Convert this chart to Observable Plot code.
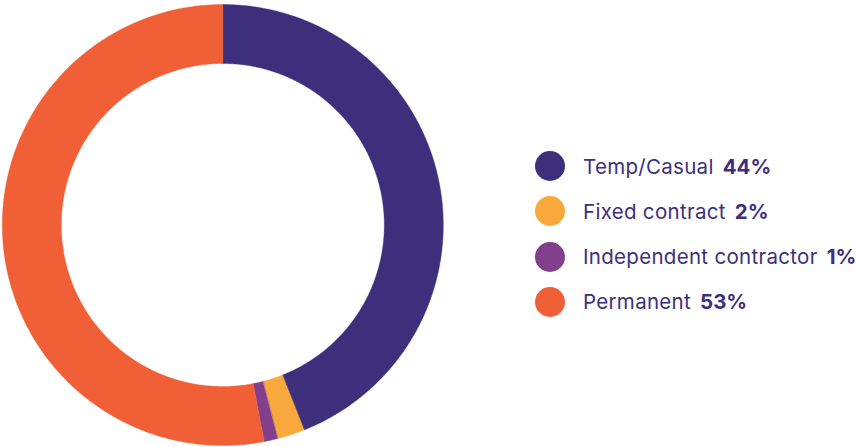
<!DOCTYPE html>
<html>
<head>
<meta charset="utf-8">
<script src="https://cdn.jsdelivr.net/npm/d3@7"></script>
<script src="https://cdn.jsdelivr.net/npm/@observablehq/plot@0.6"></script>
<style>
  html, body { margin: 0; padding: 0; background: #fff; }
  #wrap { position: relative; width: 857px; height: 447px; }
  #legend { position: absolute; left: 535px; top: 151px; font-family: Inter, "Noto Sans", sans-serif; color: #3d2f7c; }
  .item { display: flex; align-items: center; height: 30px; margin-bottom: 15.3px; font-size: 20.5px; letter-spacing: 0.3px; white-space: nowrap; }
  .sw { width: 30px; height: 30px; border-radius: 50%; margin-right: 18px; flex: none; }
  .val { font-weight: 700; margin-left: 9px; letter-spacing: 0; }
</style>
</head>
<body>
<div id="wrap"></div>
<script>
const categories = ["Temp/Casual", "Fixed contract", "Independent contractor", "Permanent"];
const values = [44, 2, 1, 53];
const valueLabels = ["44%", "2%", "1%", "53%"];
const colors = ["#3d2f7c", "#f9a93b", "#813f8c", "#f15f37"];

const innerRatio = 161.5 / 220.5;
const pie = d3.pie().sort(null).value(d => d.value)(categories.map((c, i) => ({name: c, value: values[i]})));
const pts = [];
for (const s of pie) {
  const n = Math.max(4, Math.ceil((s.endAngle - s.startAngle) / 0.01));
  for (let k = 0; k <= n; k++) {
    const a = s.startAngle + (s.endAngle - s.startAngle) * k / n;
    pts.push({name: s.data.name, x: Math.sin(a), y: Math.cos(a)});
  }
  for (let k = n; k >= 0; k--) {
    const a = s.startAngle + (s.endAngle - s.startAngle) * k / n;
    pts.push({name: s.data.name, x: innerRatio * Math.sin(a), y: innerRatio * Math.cos(a)});
  }
}

const chart = Plot.plot({
  width: 857,
  height: 447,
  marginLeft: 1.8,
  marginRight: 414.2,
  marginTop: 4,
  marginBottom: 2,
  x: {domain: [-1, 1], axis: null},
  y: {domain: [-1, 1], axis: null},
  color: {domain: categories, range: colors},
  marks: [
    Plot.line(pts, {x: "x", y: "y", z: "name", fill: "name", stroke: "name", strokeWidth: 0.4, curve: "linear-closed"})
  ]
});
const wrap = document.getElementById("wrap");
wrap.appendChild(chart);

const legend = document.createElement("div");
legend.id = "legend";
categories.forEach((c, i) => {
  const it = document.createElement("div");
  it.className = "item";
  it.innerHTML = `<span class="sw" style="background:${colors[i]}"></span><span>${c}</span><span class="val">${valueLabels[i]}</span>`;
  legend.appendChild(it);
});
wrap.appendChild(legend);
</script>
</body>
</html>
